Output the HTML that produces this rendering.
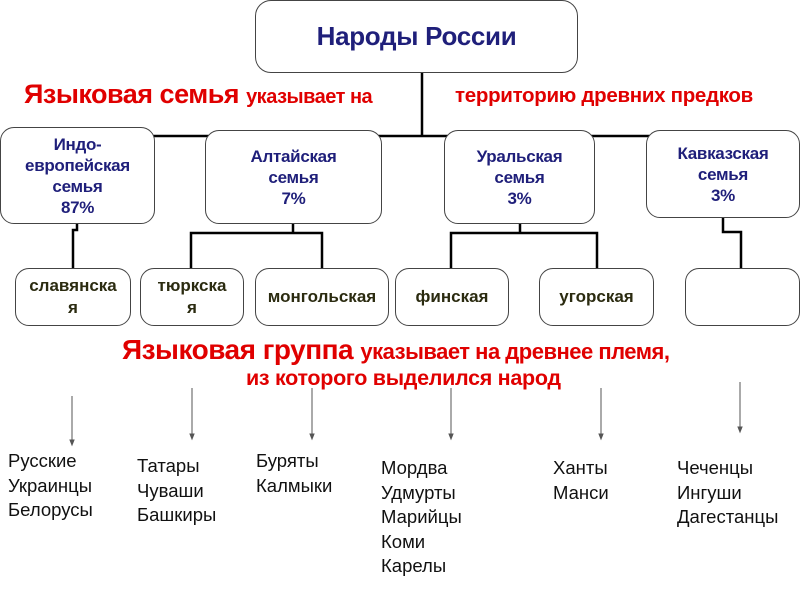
<!DOCTYPE html>
<html><head><meta charset="utf-8"><style>
body{margin:0;width:800px;height:600px;background:#fff;position:relative;overflow:hidden;font-family:"Liberation Sans",sans-serif}
.b{position:absolute;border:1.5px solid #444;border-radius:14px;box-sizing:border-box;background:#fff}
.f{color:#1f1f7a;font-weight:bold;font-size:17px;text-align:center;line-height:21px;display:flex;flex-direction:column;justify-content:center;letter-spacing:-0.3px}
.g{color:#2b2b10;font-weight:bold;font-size:17px;text-align:center;line-height:22px;display:flex;flex-direction:column;justify-content:center}
.t{position:absolute;white-space:nowrap}
.red{color:#e00000;font-weight:bold}
.p{position:absolute;font-size:18.5px;line-height:24.5px;color:#111}
</style></head><body>
<svg width="800" height="600" style="position:absolute;left:0;top:0">
<g stroke="#000" stroke-width="2.5" fill="none">
<path d="M422 73V136M77 136H723M77 127V136M293 130V136M520 130V136M723 130V136"/>
<path d="M77 222V230H73V268M293 224V233M191 268V233H322V268M520 224V233M451 268V233H597V268M723 216V232H741V268"/>
</g>
<g stroke="#555" stroke-width="1" fill="#555">
<path d="M72 396V443M192 388V437M312 388V437M451 388V437M601 388V437M740 382V430"/>
<path d="M70 440L72 445L74 440ZM190 434L192 439L194 434ZM310 434L312 439L314 434ZM449 434L451 439L453 434ZM599 434L601 439L603 434ZM738 427L740 432L742 427Z"/>
</g></svg>
<div class="b f" style="left:255px;top:0;width:323px;height:73px;font-size:26px;border-radius:16px">Народы России</div>
<div class="t red" style="left:24px;top:79px;font-size:27px;letter-spacing:-0.5px">Языковая семья <span style="font-size:20px">указывает на</span></div>
<div class="t red" style="left:455px;top:84px;font-size:20.5px;letter-spacing:-0.3px">территорию древних предков</div>
<div class="b f" style="left:0;top:127px;width:155px;height:97px">Индо-<br>европейская<br>семья<br>87%</div>
<div class="b f" style="left:205px;top:130px;width:177px;height:94px">Алтайская<br>семья<br>7%</div>
<div class="b f" style="left:444px;top:130px;width:151px;height:94px">Уральская<br>семья<br>3%</div>
<div class="b f" style="left:646px;top:130px;width:154px;height:88px">Кавказская<br>семья<br>3%</div>
<div class="b g" style="left:15px;top:268px;width:116px;height:58px">славянска<br>я</div>
<div class="b g" style="left:140px;top:268px;width:104px;height:58px">тюркска<br>я</div>
<div class="b g" style="left:255px;top:268px;width:134px;height:58px">монгольская</div>
<div class="b g" style="left:395px;top:268px;width:114px;height:58px">финская</div>
<div class="b g" style="left:539px;top:268px;width:115px;height:58px">угорская</div>
<div class="b g" style="left:685px;top:268px;width:115px;height:58px"></div>
<div class="t red" style="left:122px;top:334px;font-size:28px;letter-spacing:-0.5px">Языковая группа <span style="font-size:22px">указывает на древнее племя,</span></div>
<div class="t red" style="left:246px;top:366px;font-size:21.5px;letter-spacing:-0.3px">из которого выделился народ</div>
<div class="p" style="left:8px;top:449px">Русские<br>Украинцы<br>Белорусы</div>
<div class="p" style="left:137px;top:454px">Татары<br>Чуваши<br>Башкиры</div>
<div class="p" style="left:256px;top:449px">Буряты<br>Калмыки</div>
<div class="p" style="left:381px;top:456px">Мордва<br>Удмурты<br>Марийцы<br>Коми<br>Карелы</div>
<div class="p" style="left:553px;top:456px">Ханты<br>Манси</div>
<div class="p" style="left:677px;top:456px">Чеченцы<br>Ингуши<br>Дагестанцы</div>
</body></html>
